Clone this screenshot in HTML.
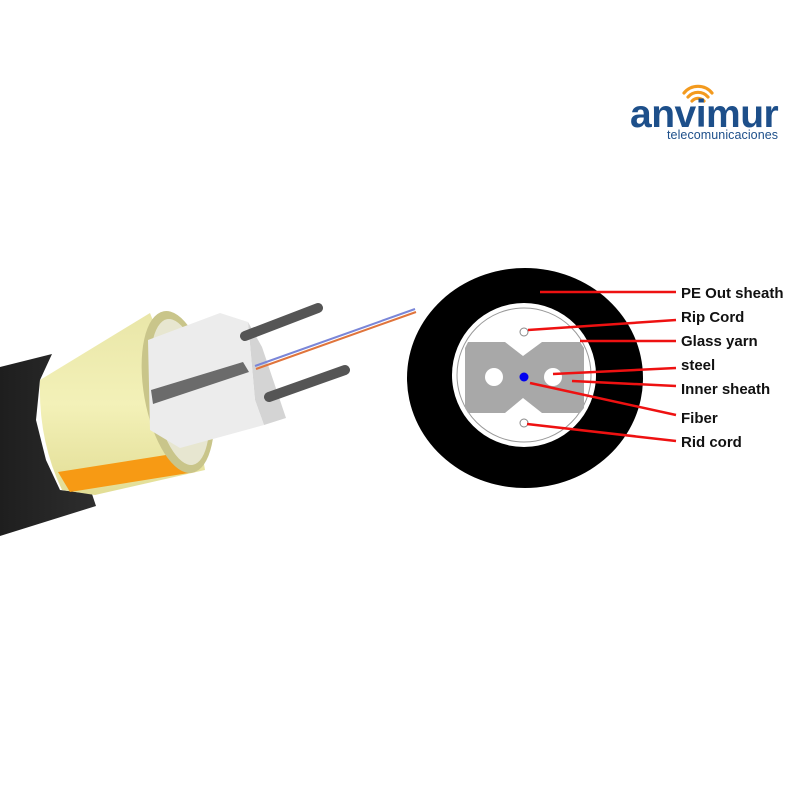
<!DOCTYPE html>
<html><head><meta charset="utf-8"><style>
html,body{margin:0;padding:0;background:#fff;width:800px;height:800px;overflow:hidden}
svg{display:block}
</style></head><body>
<svg width="800" height="800" viewBox="0 0 800 800" xmlns="http://www.w3.org/2000/svg">
<defs>
<linearGradient id="yl" x1="0" y1="0" x2="0" y2="1"><stop offset="0" stop-color="#e9e6a8"/><stop offset="0.5" stop-color="#f3f1b8"/><stop offset="1" stop-color="#e2dd95"/></linearGradient>
<linearGradient id="bk" x1="0" y1="0" x2="1" y2="0"><stop offset="0" stop-color="#1e1e1e"/><stop offset="1" stop-color="#2e2e2e"/></linearGradient>
</defs>
<!-- logo -->
<g fill="none" stroke="#f39a1e" stroke-width="3.2" stroke-linecap="round">
<path d="M692 101 a8 8 0 0 1 12 0"/>
<path d="M688 97 a13 13 0 0 1 20 0"/>
<path d="M684 93 a18 18 0 0 1 28 0"/>
</g>
<text x="630" y="127" font-family="Liberation Sans, sans-serif" font-weight="bold" font-size="39" fill="#1d4f8a" letter-spacing="-0.5">anvimur</text>
<text x="667" y="139" font-family="Liberation Sans, sans-serif" font-size="12.5" fill="#1d4f8a" textLength="111">telecomunicaciones</text>

<!-- left cable -->
<polygon points="0,367 52,354 40,380 36,420 46,460 60,490 92,494 96,506 0,536" fill="url(#bk)"/>
<path d="M40,380 L150,313 L200,440 L205,470 L95,495 L62,490 Q38,440 40,380 Z" fill="url(#yl)"/>
<path d="M58,472 L185,452 L195,472 L70,492 Z" fill="#f79a14"/>
<ellipse cx="178" cy="392" rx="34" ry="82" transform="rotate(-10 178 392)" fill="#c9c58a"/>
<ellipse cx="180" cy="392" rx="27" ry="74" transform="rotate(-10 180 392)" fill="#e7e6d0"/>
<!-- block -->
<polygon points="248,322 262,347 286,418 264,425 255,400" fill="#d4d4d4"/>
<polygon points="148,340 220,313 248,322 255,400 264,425 180,448 150,430" fill="#ececec"/>
<polygon points="151,390 243,362 249,372 153,404" fill="#6b6b6b"/>
<!-- rods -->
<line x1="245" y1="336" x2="318" y2="308" stroke="#555" stroke-width="10" stroke-linecap="round"/>
<line x1="269" y1="397" x2="345" y2="370" stroke="#555" stroke-width="10" stroke-linecap="round"/>
<line x1="255" y1="366" x2="415" y2="309" stroke="#7a86d8" stroke-width="2"/>
<line x1="256" y1="369" x2="416" y2="312" stroke="#e0743c" stroke-width="2"/>

<!-- cross section -->
<ellipse cx="525" cy="378" rx="118" ry="110" fill="#000"/>
<circle cx="524" cy="375" r="72" fill="#fff"/>
<circle cx="524" cy="375" r="67" fill="none" stroke="#999" stroke-width="1"/>
<polygon points="468,342 505,342 523,356 542,342 580,342 584,348 584,408 580,413 542,413 523,398 505,413 468,413 465,408 465,348" fill="#a8a8a8"/>
<circle cx="494" cy="377" r="9" fill="#fff"/>
<circle cx="553" cy="377" r="9" fill="#fff"/>
<circle cx="524" cy="377" r="4.5" fill="#0000ee"/>
<circle cx="524" cy="332" r="4" fill="#fff" stroke="#888" stroke-width="1"/>
<circle cx="524" cy="423" r="4" fill="#fff" stroke="#888" stroke-width="1"/>
<g stroke="#ee1111" stroke-width="2.5">
<line x1="540" y1="292" x2="676" y2="292"/>
<line x1="528" y1="330" x2="676" y2="320"/>
<line x1="580" y1="341" x2="676" y2="341"/>
<line x1="553" y1="374" x2="676" y2="368"/>
<line x1="572" y1="381" x2="676" y2="386"/>
<line x1="530" y1="383" x2="676" y2="415"/>
<line x1="527" y1="424" x2="676" y2="441"/>
</g>
<g font-family="Liberation Sans, sans-serif" font-weight="bold" font-size="15" fill="#111">
<text x="681" y="298">PE Out sheath</text>
<text x="681" y="322">Rip Cord</text>
<text x="681" y="346">Glass yarn</text>
<text x="681" y="370">steel</text>
<text x="681" y="394">Inner sheath</text>
<text x="681" y="423">Fiber</text>
<text x="681" y="447">Rid cord</text>
</g>
</svg>
</body></html>
